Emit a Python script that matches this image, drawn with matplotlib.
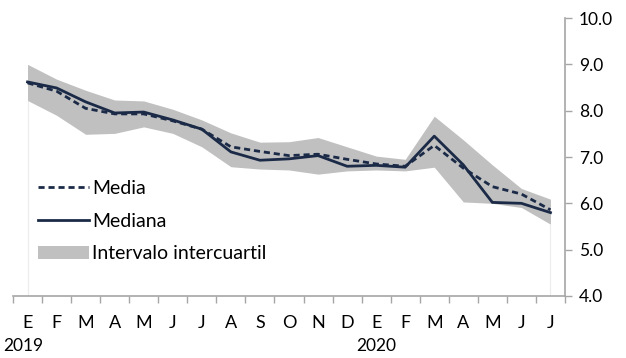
import matplotlib
matplotlib.use('Agg')
import matplotlib.pyplot as plt
from matplotlib.patches import Patch
from matplotlib.lines import Line2D

# meses (ene 2019 - jul 2020)
months = ['E', 'F', 'M', 'A', 'M', 'J', 'J', 'A', 'S', 'O', 'N', 'D',
          'E', 'F', 'M', 'A', 'M', 'J', 'J']
years = ['2019', '2020']

media = [8.60, 8.42, 8.05, 7.93, 7.93, 7.78, 7.60, 7.22, 7.12, 7.03, 7.06, 6.95,
         6.85, 6.80, 7.25, 6.76, 6.36, 6.20, 5.86]
mediana = [8.62, 8.49, 8.19, 7.95, 7.97, 7.80, 7.60, 7.11, 6.93, 6.96, 7.03, 6.80,
           6.82, 6.78, 7.45, 6.83, 6.02, 6.00, 5.80]
q_alto = [9.00, 8.68, 8.44, 8.23, 8.21, 8.03, 7.80, 7.52, 7.32, 7.33, 7.42, 7.22,
          7.02, 6.95, 7.88, 7.37, 6.83, 6.32, 6.09]
q_bajo = [8.22, 7.90, 7.49, 7.51, 7.65, 7.51, 7.22, 6.79, 6.74, 6.72, 6.63, 6.70,
          6.72, 6.70, 6.78, 6.03, 6.00, 5.91, 5.55]

navy = '#1b2a47'
band = '#c0c0c0'
axis_col = '#a6a6a6'
dash = (0, (2.2, 1.4))

plt.rcParams['font.family'] = ['Lato', 'DejaVu Sans']

fig = plt.figure(figsize=(6.26, 3.58), dpi=100)
ax = fig.add_axes([13 / 626, 1 - 296 / 358, 552 / 626, 278 / 358])

x = list(range(len(months)))

ax.fill_between(x, q_bajo, q_alto, color=band, lw=0, zorder=1)
# lineas tenues de los extremos
ax.vlines([x[0]], 4.0, q_bajo[0], color='#ececec', lw=0.8, zorder=0)
ax.vlines([x[-1]], 4.0, q_bajo[-1], color='#ececec', lw=0.8, zorder=0)
ax.plot(x, media, color=navy, lw=2.0, ls=dash, zorder=3)
ax.plot(x, mediana, color=navy, lw=2.0, zorder=2)

ax.set_xlim(-0.5, len(months) - 0.5)
ax.set_ylim(4.0, 10.0)

# eje y a la derecha
ax.yaxis.tick_right()
ax.set_yticks([4, 5, 6, 7, 8, 9, 10])
ax.set_yticklabels(['%.1f' % v for v in [4, 5, 6, 7, 8, 9, 10]])
ax.tick_params(axis='y', direction='out', length=5, width=1, color=axis_col,
               labelsize=12.5, pad=5)

# eje x con marcas entre categorias
ax.set_xticks([i - 0.5 for i in range(len(months) + 1)])
ax.set_xticklabels([])
ax.tick_params(axis='x', direction='out', length=5, width=1, color=axis_col)
for i, m in enumerate(months):
    ax.text(i, -0.07, m, transform=ax.get_xaxis_transform(), ha='center',
            va='top', fontsize=13)
fig.text(3 / 626, 1 - 338 / 358, years[0], ha='left', va='top', fontsize=12.5)
ax.text(12, -0.152, years[1], transform=ax.get_xaxis_transform(), ha='center',
        va='top', fontsize=12.5)

for s in ['top', 'left']:
    ax.spines[s].set_visible(False)
for s in ['bottom', 'right']:
    ax.spines[s].set_color(axis_col)
    ax.spines[s].set_linewidth(1.2)

handles = [Line2D([], [], color=navy, lw=2.0, ls=dash),
           Line2D([], [], color=navy, lw=2.0),
           Patch(facecolor=band, edgecolor='none')]
ax.legend(handles, ['Media', 'Mediana', 'Intervalo intercuartil'],
          loc='lower left', bbox_to_anchor=(0.032, 0.093), frameon=False,
          fontsize=14, handlelength=2.6, handletextpad=0.15, labelspacing=0.8,
          borderaxespad=0)

fig.savefig('out.png', dpi=100)
